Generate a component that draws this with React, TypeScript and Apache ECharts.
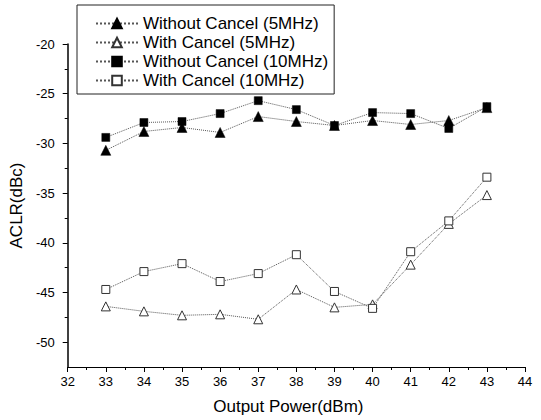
import React, { useEffect, useRef } from 'react';
import * as echarts from 'echarts';

const xValues = [33, 34, 35, 36, 37, 38, 39, 40, 41, 42, 43];
const withoutCancel5 = [-30.7, -28.8, -28.4, -28.9, -27.3, -27.8, -28.2, -27.7, -28.1, -27.7, -26.4];
const withCancel5 = [-46.4, -46.9, -47.3, -47.2, -47.7, -44.7, -46.5, -46.2, -42.2, -38.1, -35.2];
const withoutCancel10 = [-29.4, -27.9, -27.8, -27.0, -25.7, -26.6, -28.2, -26.9, -27.0, -28.5, -26.3];
const withCancel10 = [-44.7, -42.9, -42.1, -43.9, -43.1, -41.2, -44.9, -46.6, -40.9, -37.8, -33.4];
const seriesNames = [
  'Without Cancel (5MHz)',
  'With Cancel (5MHz)',
  'Without Cancel (10MHz)',
  'With Cancel (10MHz)',
];
const yMajorTicks = [-50, -45, -40, -35, -30, -25, -20];
const yMinorTicks = [-47.5, -42.5, -37.5, -32.5, -27.5, -22.5];

const FONT = '"Liberation Sans", Arial, sans-serif';

export default function App() {
  const ref = useRef<HTMLDivElement>(null);
  useEffect(() => {
    if (!ref.current) return;
    const chart = echarts.init(ref.current, undefined, { renderer: 'svg' });
    const pair = (vals: number[]) => xValues.map((x, i) => [x, vals[i]]);
    const lineStyle = { color: '#555', width: 1, type: 'dotted' as const };
    const filled = { color: '#000', borderColor: '#000', borderWidth: 0.5 };
    const hollow = { color: '#fff', borderColor: '#333', borderWidth: 1 };
    chart.setOption({
      animation: false,
      backgroundColor: '#fff',
      textStyle: { fontFamily: FONT },
      grid: { left: 67, right: 16, top: 44, bottom: 52, containLabel: false },
      legend: {
        orient: 'vertical',
        left: 77,
        top: 5,
        padding: [9, 6, 4, 18],
        itemGap: 0,
        itemWidth: 42,
        itemHeight: 12,
        borderColor: '#222',
        borderWidth: 1,
        textStyle: { fontFamily: FONT, fontSize: 17, color: '#000', lineHeight: 19 },
        data: seriesNames,
      },
      xAxis: {
        type: 'value',
        min: 32,
        max: 44,
        interval: 1,
        name: 'Output Power(dBm)',
        nameLocation: 'middle',
        nameGap: 31,
        nameTextStyle: { fontFamily: FONT, fontSize: 17, color: '#000', padding: [0, 16, 0, 0] },
        axisLine: { lineStyle: { color: '#000', width: 1 } },
        axisTick: { inside: false, length: 5, lineStyle: { color: '#000' } },
        minorTick: { show: true, splitNumber: 2, length: 3, lineStyle: { color: '#000' } },
        axisLabel: { fontFamily: FONT, fontSize: 13, color: '#000', margin: 8 },
        splitLine: { show: false },
      },
      yAxis: [
        {
          type: 'value',
          position: 'left',
          min: -52.5,
          max: -20,
          name: 'ACLR(dBc)',
          nameLocation: 'middle',
          nameGap: 37,
          nameTextStyle: { fontFamily: FONT, fontSize: 17, color: '#000' },
          axisLine: { show: true, lineStyle: { color: '#000', width: 1.5 } },
          axisTick: { show: true, inside: false, length: 5, customValues: yMajorTicks, lineStyle: { color: '#000' } },
          axisLabel: { fontFamily: FONT, fontSize: 13, color: '#000', margin: 13, customValues: yMajorTicks },
          splitLine: { show: false },
        },
        {
          type: 'value',
          position: 'left',
          min: -52.5,
          max: -20,
          axisLine: { show: false },
          axisTick: { show: true, inside: false, length: 3, customValues: yMinorTicks, lineStyle: { color: '#000' } },
          axisLabel: { show: false },
          splitLine: { show: false },
        },
      ],
      series: [
        {
          name: seriesNames[0],
          type: 'line',
          data: pair(withoutCancel5),
          symbol: 'triangle',
          symbolSize: 10,
          lineStyle,
          itemStyle: filled,
        },
        {
          name: seriesNames[1],
          type: 'line',
          data: pair(withCancel5),
          symbol: 'triangle',
          symbolSize: 9,
          lineStyle,
          itemStyle: hollow,
        },
        {
          name: seriesNames[2],
          type: 'line',
          data: pair(withoutCancel10),
          symbol: 'rect',
          symbolSize: 8,
          lineStyle,
          itemStyle: filled,
        },
        {
          name: seriesNames[3],
          type: 'line',
          data: pair(withCancel10),
          symbol: 'rect',
          symbolSize: 8,
          lineStyle,
          itemStyle: hollow,
        },
      ],
    });
    return () => chart.dispose();
  }, []);
  return <div ref={ref} style={{ width: 541, height: 420, position: 'absolute', left: 0, top: 0 }} />;
}
